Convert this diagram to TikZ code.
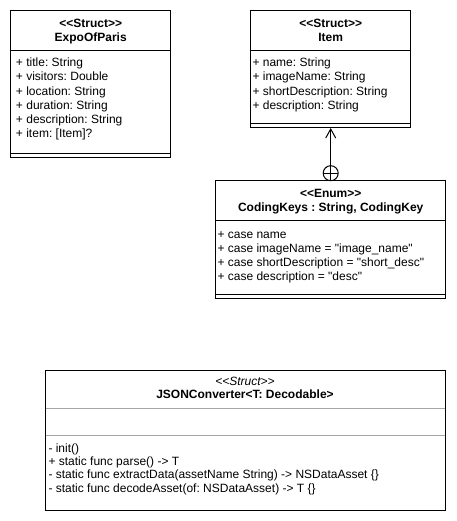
\documentclass[tikz,border=0pt]{standalone}
\usepackage{fontspec}
\newfontfamily\umlfont{Liberation Sans}
\usetikzlibrary{arrows.meta}
\frenchspacing
\begin{document}
\begin{tikzpicture}[x=1pt,y=-1pt,
  every node/.style={font=\umlfont\fontsize{12}{14}\selectfont, inner sep=0pt, outer sep=0pt},
  classbox/.style={draw, line width=1pt, rectangle, anchor=north west},
  rule/.style={line width=1pt},
  softrule/.style={line width=1pt, draw=gray!70},
  member/.style={anchor=base west},
  heading/.style={anchor=base, font=\umlfont\bfseries\fontsize{12}{14}\selectfont},
  stereo/.style={anchor=base, font=\umlfont\itshape\fontsize{12}{14}\selectfont},
]
\useasboundingbox[fill=white] (0,0) rectangle (456,521);

% ---- ExpoOfParis ----
\node[classbox, minimum width=160pt, minimum height=147.3pt] (expo) at (10.7,10.7) {};
\draw[rule] (10.7,50.7) -- (170.7,50.7);
\draw[rule] (10.7,154) -- (170.7,154);
\node[heading] (expoS) at (90.7,27.7) {<<Struct>>};
\node[heading] (expoN) at (90.7,41.7) {ExpoOfParis};
\node[member] (e1) at (16,66.7) {+ title: String};
\node[member] (e2) at (16,80.9) {+ visitors: Double};
\node[member] (e3) at (16,95.1) {+ location: String};
\node[member] (e4) at (16,109.3) {+ duration: String};
\node[member] (e5) at (16,123.5) {+ description: String};
\node[member] (e6) at (16,137.7) {+ item: [Item]?};

% ---- Item ----
\node[classbox, minimum width=160pt, minimum height=117.3pt] (item) at (250.7,10.7) {};
\draw[rule] (250.7,50.7) -- (410.7,50.7);
\draw[rule] (250.7,124) -- (410.7,124);
\node[heading] (itemS) at (330.7,27.7) {<<Struct>>};
\node[heading] (itemN) at (330.7,41.7) {Item};
\node[member] (i1) at (252.5,66.7) {+ name: String};
\node[member] (i2) at (252.5,80.9) {+ imageName: String};
\node[member] (i3) at (252.5,95.1) {+ shortDescription: String};
\node[member] (i4) at (252.5,109.3) {+ description: String};

% ---- CodingKeys ----
\node[classbox, minimum width=230pt, minimum height=117.3pt] (keys) at (215.7,180.7) {};
\draw[rule] (215.7,220) -- (445.7,220);
\draw[rule] (215.7,294) -- (445.7,294);
\node[heading] (keysS) at (330.7,197.5) {<<Enum>>};
\node[heading] (keysN) at (330.7,211.7) {CodingKeys : String, CodingKey};
\node[member] (k1) at (217.5,238.3) {+ case name};
\node[member] (k2) at (217.5,252.4) {+ case imageName = "image\_name"};
\node[member] (k3) at (217.5,266.5) {+ case shortDescription = "short\_desc"};
\node[member] (k4) at (217.5,280.6) {+ case description = "desc"};

% nesting connector: CodingKeys is nested inside Item
\node[circle, draw, line width=1pt, minimum size=15pt] (nest) at (330.7,173.2) {};
\draw[line width=0.8pt] (nest.north) -- (nest.south);
\draw[line width=0.8pt] (nest.west) -- (nest.east);
\draw[line width=1pt, -{Straight Barb[length=9pt, width=10pt]}] (nest.north) -- (item.south);

% ---- JSONConverter ----
\node[classbox, minimum width=400pt, minimum height=140pt] (json) at (45,370.7) {};
\draw[softrule] (45.5,408.3) -- (444.5,408.3);
\draw[softrule] (45.5,435.7) -- (444.5,435.7);
\node[stereo] (jsonS) at (245,385) {<<Struct>>};
\node[heading] (jsonN) at (245,398.5) {JSONConverter<T: Decodable>};
\node[member] (j1) at (48.5,452.3) {- init()};
\node[member] (j2) at (48.5,465.6) {+ static func parse() -> T};
\node[member] (j3) at (48.5,478.9) {- static func extractData(assetName String) -> NSDataAsset \{\}};
\node[member] (j4) at (48.5,492.2) {- static func decodeAsset(of: NSDataAsset) -> T \{\}};
\end{tikzpicture}
\end{document}
